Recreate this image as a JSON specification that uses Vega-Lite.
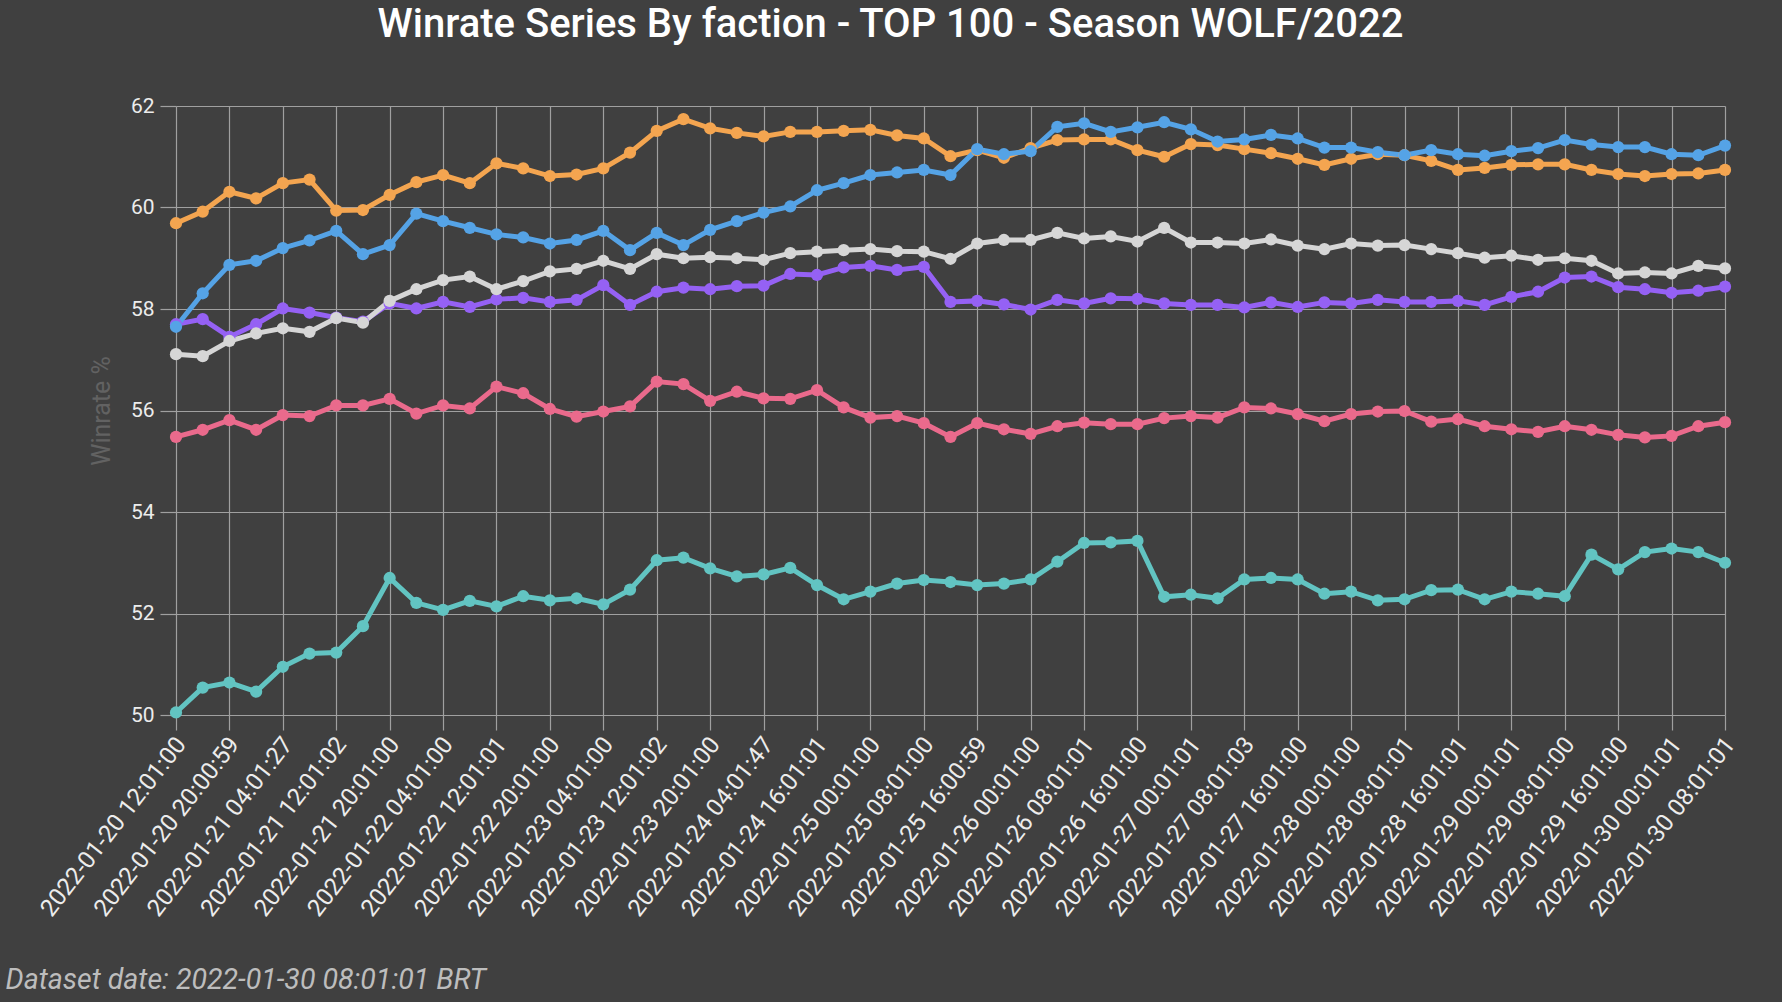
{
  "$schema": "https://vega.github.io/schema/vega-lite/v6.json",
  "autosize": {"type": "none"},
  "padding": {"left": 176, "top": 106, "right": 57, "bottom": 287},
  "width": 1549,
  "height": 609,
  "background": "#404040",
  "config": {
    "view": {"stroke": null},
    "font": "Roboto",
    "axis": {"domain": false, "gridColor": "#a0a0a0", "gridWidth": 1.2, "tickColor": "#a0a0a0", "tickWidth": 1.2, "labelColor": "#ececec", "labelFont": "Roboto"}
  },
  "title": {
    "text": "Winrate Series By faction - TOP 100 - Season WOLF/2022",
    "fontSize": 40,
    "fontWeight": 500,
    "color": "#ffffff",
    "anchor": "middle",
    "frame": "group",
    "dx": -60,
    "offset": 50
  },
  "data": {
    "values": [
      {"t": "2022-01-20 12:01:00", "syndicate": 59.69, "northern_realms": 57.65, "nilfgaard": 57.11, "skellige": 57.70, "monsters": 55.48, "scoiatael": 50.05},
      {"t": "2022-01-20 16:01:00", "syndicate": 59.92, "northern_realms": 58.31, "nilfgaard": 57.07, "skellige": 57.80, "monsters": 55.62, "scoiatael": 50.54},
      {"t": "2022-01-20 20:00:59", "syndicate": 60.31, "northern_realms": 58.87, "nilfgaard": 57.37, "skellige": 57.45, "monsters": 55.81, "scoiatael": 50.64},
      {"t": "2022-01-21 00:01:00", "syndicate": 60.18, "northern_realms": 58.95, "nilfgaard": 57.52, "skellige": 57.70, "monsters": 55.62, "scoiatael": 50.46},
      {"t": "2022-01-21 04:01:27", "syndicate": 60.48, "northern_realms": 59.20, "nilfgaard": 57.62, "skellige": 58.01, "monsters": 55.91, "scoiatael": 50.95},
      {"t": "2022-01-21 08:01:00", "syndicate": 60.55, "northern_realms": 59.35, "nilfgaard": 57.55, "skellige": 57.93, "monsters": 55.89, "scoiatael": 51.21},
      {"t": "2022-01-21 12:01:02", "syndicate": 59.94, "northern_realms": 59.54, "nilfgaard": 57.82, "skellige": 57.83, "monsters": 56.10, "scoiatael": 51.23},
      {"t": "2022-01-21 16:01:00", "syndicate": 59.95, "northern_realms": 59.08, "nilfgaard": 57.73, "skellige": 57.75, "monsters": 56.10, "scoiatael": 51.75},
      {"t": "2022-01-21 20:01:00", "syndicate": 60.25, "northern_realms": 59.26, "nilfgaard": 58.16, "skellige": 58.11, "monsters": 56.23, "scoiatael": 52.70},
      {"t": "2022-01-22 00:01:00", "syndicate": 60.50, "northern_realms": 59.88, "nilfgaard": 58.39, "skellige": 58.01, "monsters": 55.94, "scoiatael": 52.21},
      {"t": "2022-01-22 04:01:00", "syndicate": 60.64, "northern_realms": 59.73, "nilfgaard": 58.57, "skellige": 58.14, "monsters": 56.10, "scoiatael": 52.07},
      {"t": "2022-01-22 08:01:00", "syndicate": 60.48, "northern_realms": 59.60, "nilfgaard": 58.64, "skellige": 58.04, "monsters": 56.04, "scoiatael": 52.25},
      {"t": "2022-01-22 12:01:01", "syndicate": 60.87, "northern_realms": 59.47, "nilfgaard": 58.39, "skellige": 58.19, "monsters": 56.47, "scoiatael": 52.14},
      {"t": "2022-01-22 16:01:00", "syndicate": 60.77, "northern_realms": 59.41, "nilfgaard": 58.55, "skellige": 58.22, "monsters": 56.34, "scoiatael": 52.34},
      {"t": "2022-01-22 20:01:00", "syndicate": 60.62, "northern_realms": 59.29, "nilfgaard": 58.74, "skellige": 58.14, "monsters": 56.03, "scoiatael": 52.26},
      {"t": "2022-01-23 00:01:00", "syndicate": 60.65, "northern_realms": 59.36, "nilfgaard": 58.79, "skellige": 58.18, "monsters": 55.88, "scoiatael": 52.30},
      {"t": "2022-01-23 04:01:00", "syndicate": 60.77, "northern_realms": 59.54, "nilfgaard": 58.95, "skellige": 58.47, "monsters": 55.98, "scoiatael": 52.18},
      {"t": "2022-01-23 08:01:00", "syndicate": 61.08, "northern_realms": 59.16, "nilfgaard": 58.79, "skellige": 58.08, "monsters": 56.08, "scoiatael": 52.47},
      {"t": "2022-01-23 12:01:02", "syndicate": 61.51, "northern_realms": 59.50, "nilfgaard": 59.08, "skellige": 58.34, "monsters": 56.57, "scoiatael": 53.05},
      {"t": "2022-01-23 16:01:00", "syndicate": 61.74, "northern_realms": 59.26, "nilfgaard": 59.00, "skellige": 58.42, "monsters": 56.52, "scoiatael": 53.10},
      {"t": "2022-01-23 20:01:00", "syndicate": 61.56, "northern_realms": 59.56, "nilfgaard": 59.02, "skellige": 58.39, "monsters": 56.19, "scoiatael": 52.89},
      {"t": "2022-01-24 00:01:00", "syndicate": 61.47, "northern_realms": 59.73, "nilfgaard": 59.00, "skellige": 58.45, "monsters": 56.37, "scoiatael": 52.73},
      {"t": "2022-01-24 04:01:47", "syndicate": 61.40, "northern_realms": 59.90, "nilfgaard": 58.97, "skellige": 58.46, "monsters": 56.24, "scoiatael": 52.77},
      {"t": "2022-01-24 10:01:00", "syndicate": 61.49, "northern_realms": 60.02, "nilfgaard": 59.10, "skellige": 58.69, "monsters": 56.23, "scoiatael": 52.90},
      {"t": "2022-01-24 16:01:01", "syndicate": 61.49, "northern_realms": 60.34, "nilfgaard": 59.13, "skellige": 58.67, "monsters": 56.40, "scoiatael": 52.56},
      {"t": "2022-01-24 20:01:00", "syndicate": 61.51, "northern_realms": 60.48, "nilfgaard": 59.16, "skellige": 58.82, "monsters": 56.06, "scoiatael": 52.28},
      {"t": "2022-01-25 00:01:00", "syndicate": 61.53, "northern_realms": 60.64, "nilfgaard": 59.18, "skellige": 58.85, "monsters": 55.86, "scoiatael": 52.43},
      {"t": "2022-01-25 04:01:00", "syndicate": 61.42, "northern_realms": 60.69, "nilfgaard": 59.14, "skellige": 58.77, "monsters": 55.89, "scoiatael": 52.59},
      {"t": "2022-01-25 08:01:00", "syndicate": 61.36, "northern_realms": 60.74, "nilfgaard": 59.13, "skellige": 58.83, "monsters": 55.75, "scoiatael": 52.66},
      {"t": "2022-01-25 12:01:00", "syndicate": 61.01, "northern_realms": 60.64, "nilfgaard": 58.99, "skellige": 58.14, "monsters": 55.48, "scoiatael": 52.62},
      {"t": "2022-01-25 16:00:59", "syndicate": 61.13, "northern_realms": 61.15, "nilfgaard": 59.29, "skellige": 58.16, "monsters": 55.75, "scoiatael": 52.56},
      {"t": "2022-01-25 20:01:00", "syndicate": 60.98, "northern_realms": 61.05, "nilfgaard": 59.36, "skellige": 58.09, "monsters": 55.63, "scoiatael": 52.59},
      {"t": "2022-01-26 00:01:00", "syndicate": 61.17, "northern_realms": 61.11, "nilfgaard": 59.36, "skellige": 57.99, "monsters": 55.54, "scoiatael": 52.67},
      {"t": "2022-01-26 04:01:00", "syndicate": 61.33, "northern_realms": 61.59, "nilfgaard": 59.50, "skellige": 58.18, "monsters": 55.69, "scoiatael": 53.02},
      {"t": "2022-01-26 08:01:01", "syndicate": 61.34, "northern_realms": 61.66, "nilfgaard": 59.39, "skellige": 58.11, "monsters": 55.76, "scoiatael": 53.39},
      {"t": "2022-01-26 12:01:00", "syndicate": 61.34, "northern_realms": 61.49, "nilfgaard": 59.43, "skellige": 58.21, "monsters": 55.73, "scoiatael": 53.40},
      {"t": "2022-01-26 16:01:00", "syndicate": 61.13, "northern_realms": 61.58, "nilfgaard": 59.33, "skellige": 58.20, "monsters": 55.73, "scoiatael": 53.43},
      {"t": "2022-01-26 20:01:00", "syndicate": 61.00, "northern_realms": 61.68, "nilfgaard": 59.60, "skellige": 58.11, "monsters": 55.85, "scoiatael": 52.33},
      {"t": "2022-01-27 00:01:01", "syndicate": 61.25, "northern_realms": 61.54, "nilfgaard": 59.31, "skellige": 58.08, "monsters": 55.89, "scoiatael": 52.37},
      {"t": "2022-01-27 04:01:00", "syndicate": 61.23, "northern_realms": 61.30, "nilfgaard": 59.31, "skellige": 58.08, "monsters": 55.86, "scoiatael": 52.30},
      {"t": "2022-01-27 08:01:03", "syndicate": 61.15, "northern_realms": 61.34, "nilfgaard": 59.29, "skellige": 58.03, "monsters": 56.06, "scoiatael": 52.67},
      {"t": "2022-01-27 12:01:00", "syndicate": 61.07, "northern_realms": 61.43, "nilfgaard": 59.37, "skellige": 58.13, "monsters": 56.04, "scoiatael": 52.70},
      {"t": "2022-01-27 16:01:00", "syndicate": 60.96, "northern_realms": 61.36, "nilfgaard": 59.25, "skellige": 58.04, "monsters": 55.93, "scoiatael": 52.67},
      {"t": "2022-01-27 20:01:00", "syndicate": 60.84, "northern_realms": 61.18, "nilfgaard": 59.18, "skellige": 58.13, "monsters": 55.79, "scoiatael": 52.39},
      {"t": "2022-01-28 00:01:00", "syndicate": 60.96, "northern_realms": 61.18, "nilfgaard": 59.29, "skellige": 58.11, "monsters": 55.93, "scoiatael": 52.43},
      {"t": "2022-01-28 04:01:00", "syndicate": 61.05, "northern_realms": 61.09, "nilfgaard": 59.25, "skellige": 58.18, "monsters": 55.98, "scoiatael": 52.26},
      {"t": "2022-01-28 08:01:01", "syndicate": 61.03, "northern_realms": 61.03, "nilfgaard": 59.26, "skellige": 58.14, "monsters": 55.99, "scoiatael": 52.28},
      {"t": "2022-01-28 12:01:00", "syndicate": 60.92, "northern_realms": 61.13, "nilfgaard": 59.18, "skellige": 58.14, "monsters": 55.78, "scoiatael": 52.46},
      {"t": "2022-01-28 16:01:01", "syndicate": 60.74, "northern_realms": 61.05, "nilfgaard": 59.10, "skellige": 58.16, "monsters": 55.83, "scoiatael": 52.47},
      {"t": "2022-01-28 20:01:00", "syndicate": 60.78, "northern_realms": 61.02, "nilfgaard": 59.01, "skellige": 58.08, "monsters": 55.69, "scoiatael": 52.28},
      {"t": "2022-01-29 00:01:01", "syndicate": 60.84, "northern_realms": 61.11, "nilfgaard": 59.05, "skellige": 58.24, "monsters": 55.63, "scoiatael": 52.43},
      {"t": "2022-01-29 04:01:00", "syndicate": 60.85, "northern_realms": 61.17, "nilfgaard": 58.97, "skellige": 58.34, "monsters": 55.58, "scoiatael": 52.39},
      {"t": "2022-01-29 08:01:00", "syndicate": 60.85, "northern_realms": 61.33, "nilfgaard": 59.00, "skellige": 58.62, "monsters": 55.69, "scoiatael": 52.34},
      {"t": "2022-01-29 12:01:00", "syndicate": 60.74, "northern_realms": 61.24, "nilfgaard": 58.95, "skellige": 58.64, "monsters": 55.62, "scoiatael": 53.16},
      {"t": "2022-01-29 16:01:00", "syndicate": 60.66, "northern_realms": 61.19, "nilfgaard": 58.70, "skellige": 58.43, "monsters": 55.52, "scoiatael": 52.87},
      {"t": "2022-01-29 20:01:00", "syndicate": 60.62, "northern_realms": 61.19, "nilfgaard": 58.72, "skellige": 58.39, "monsters": 55.47, "scoiatael": 53.21},
      {"t": "2022-01-30 00:01:01", "syndicate": 60.66, "northern_realms": 61.05, "nilfgaard": 58.70, "skellige": 58.32, "monsters": 55.50, "scoiatael": 53.28},
      {"t": "2022-01-30 04:01:00", "syndicate": 60.67, "northern_realms": 61.03, "nilfgaard": 58.85, "skellige": 58.36, "monsters": 55.69, "scoiatael": 53.21},
      {"t": "2022-01-30 08:01:01", "syndicate": 60.74, "northern_realms": 61.22, "nilfgaard": 58.80, "skellige": 58.44, "monsters": 55.77, "scoiatael": 53.00}
    ]
  },
  "transform": [
    {"fold": ["skellige", "monsters", "scoiatael", "syndicate", "nilfgaard", "northern_realms"], "as": ["faction", "winrate"]}
  ],
  "mark": {"type": "line", "strokeWidth": 5, "point": {"filled": true, "size": 150, "opacity": 1}},
  "encoding": {
    "x": {
      "field": "t",
      "type": "ordinal",
      "sort": null,
      "scale": {"type": "point", "padding": 0},
      "axis": {
        "values": [
          "2022-01-20 12:01:00", "2022-01-20 20:00:59", "2022-01-21 04:01:27", "2022-01-21 12:01:02", "2022-01-21 20:01:00",
          "2022-01-22 04:01:00", "2022-01-22 12:01:01", "2022-01-22 20:01:00", "2022-01-23 04:01:00", "2022-01-23 12:01:02",
          "2022-01-23 20:01:00", "2022-01-24 04:01:47", "2022-01-24 16:01:01", "2022-01-25 00:01:00", "2022-01-25 08:01:00",
          "2022-01-25 16:00:59", "2022-01-26 00:01:00", "2022-01-26 08:01:01", "2022-01-26 16:01:00", "2022-01-27 00:01:01",
          "2022-01-27 08:01:03", "2022-01-27 16:01:00", "2022-01-28 00:01:00", "2022-01-28 08:01:01", "2022-01-28 16:01:01",
          "2022-01-29 00:01:01", "2022-01-29 08:01:00", "2022-01-29 16:01:00", "2022-01-30 00:01:01", "2022-01-30 08:01:01"
        ],
        "grid": true,
        "tickSize": 15,
        "labelAngle": -52,
        "labelAlign": "right",
        "labelBaseline": "middle",
        "labelFontSize": 24,
        "labelPadding": 10,
        "labelOffset": 5,
        "labelLimit": 0,
        "labelOverlap": false,
        "title": "Dataset date: 2022-01-30 08:01:01 BRT",
        "titleFontSize": 28.5,
        "titleFontStyle": "italic",
        "titleFontWeight": "normal",
        "titleColor": "#bdbdbd",
        "titleAlign": "left",
        "titleBaseline": "alphabetic",
        "titleAngle": 0,
        "titleX": -171,
        "titleY": 273
      }
    },
    "y": {
      "field": "winrate",
      "type": "quantitative",
      "scale": {"domain": [50, 62], "zero": false, "nice": false},
      "axis": {
        "values": [50, 52, 54, 56, 58, 60, 62],
        "grid": true,
        "tickSize": 16,
        "labelFontSize": 21,
        "labelPadding": 6,
        "title": "Winrate %",
        "titleColor": "#626262",
        "titleFontSize": 25,
        "titleFontWeight": "normal",
        "titlePadding": 16
      }
    },
    "color": {
      "field": "faction",
      "type": "nominal",
      "scale": {
        "domain": ["skellige", "monsters", "scoiatael", "syndicate", "nilfgaard", "northern_realms"],
        "range": ["#9561f4", "#ea6a8c", "#62c4c2", "#f4a550", "#d6d6d6", "#55a3e6"]
      },
      "legend": null
    }
  }
}
